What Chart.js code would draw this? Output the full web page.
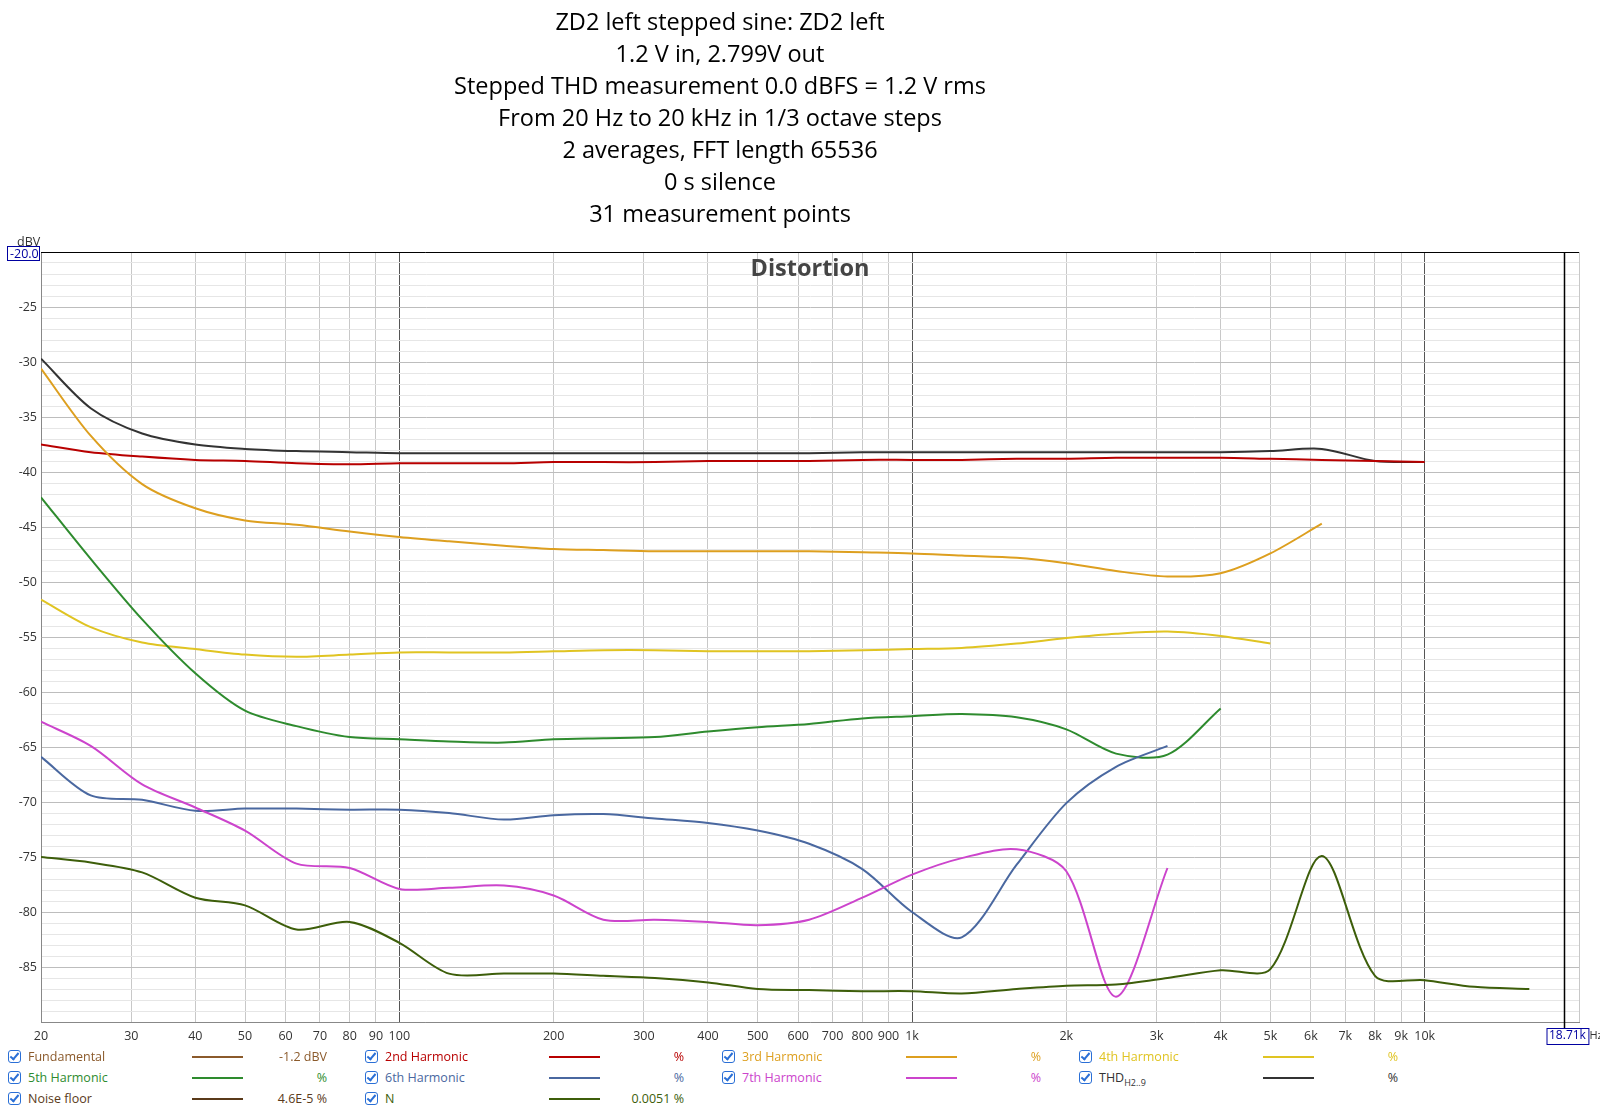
<!DOCTYPE html>
<html>
<head>
<meta charset="utf-8">
<script src="https://cdn.jsdelivr.net/npm/chart.js@4"></script>
<style>
  html, body { margin: 0; padding: 0; background: #fff; overflow: hidden; font-family: "Open Sans", "Noto Sans", sans-serif; }
  #wrap { position: relative; width: 1600px; height: 1111px; overflow: hidden; }
  canvas { position: absolute; left: 0; top: 0; }
  .lg { position: absolute; font-size: 12.5px; height: 18px; line-height: 18px; white-space: nowrap; }
  .cb { position: absolute; width: 11px; height: 11px; border: 1.5px solid #2a6fd6; border-radius: 3px; }
  .cb:after { content: ""; position: absolute; left: 3px; top: 0px; width: 3px; height: 7px; border: solid #2a6fd6; border-width: 0 2px 2px 0; transform: rotate(40deg); }
  .sw { position: absolute; width: 51px; height: 2px; }
</style>
</head>
<body>
<div id="wrap">
  <canvas id="c" width="1600" height="1052"></canvas>
  <div id="legend"></div>
</div>
<script>
const freqs = [20, 25, 31.5, 40, 50, 63, 80, 100, 125, 160, 200, 250, 315, 400, 500, 630, 800,
  1000, 1250, 1600, 2000, 2500, 3150, 4000, 5000, 6300, 8000, 10000, 12500, 16000];

const thd = [-29.7, -34.2, -36.5, -37.5, -37.9, -38.1, -38.2, -38.3, -38.3, -38.3, -38.3, -38.3, -38.3, -38.3, -38.3, -38.3, -38.2,
  -38.2, -38.2, -38.2, -38.2, -38.2, -38.2, -38.2, -38.1, -37.9, -39.0, -39.1];
const h2 = [-37.5, -38.2, -38.6, -38.9, -39.0, -39.2, -39.3, -39.2, -39.2, -39.2, -39.1, -39.1, -39.1, -39.0, -39.0, -39.0, -38.9,
  -38.9, -38.9, -38.8, -38.8, -38.7, -38.7, -38.7, -38.8, -38.9, -39.0, -39.1];
const h3 = [-30.6, -36.7, -41.1, -43.3, -44.4, -44.8, -45.4, -45.9, -46.3, -46.7, -47.0, -47.1, -47.2, -47.2, -47.2, -47.2, -47.3,
  -47.4, -47.6, -47.8, -48.3, -49.0, -49.5, -49.2, -47.4, -44.7];
const h4 = [-51.6, -54.1, -55.5, -56.1, -56.6, -56.8, -56.6, -56.4, -56.4, -56.4, -56.3, -56.2, -56.2, -56.3, -56.3, -56.3, -56.2,
  -56.1, -56.0, -55.6, -55.1, -54.7, -54.5, -54.9, -55.6];
const h5 = [-42.3, -47.9, -53.4, -58.3, -61.7, -63.1, -64.1, -64.3, -64.5, -64.6, -64.3, -64.2, -64.1, -63.6, -63.2, -62.9, -62.4,
  -62.2, -62.0, -62.3, -63.4, -65.6, -65.7, -61.5];
const h6 = [-65.9, -69.4, -69.8, -70.8, -70.6, -70.6, -70.7, -70.7, -71.0, -71.6, -71.2, -71.1, -71.5, -71.9, -72.6, -73.8, -76.1,
  -80.0, -82.3, -75.7, -70.1, -66.8, -64.9];
const h7 = [-62.7, -64.9, -68.4, -70.5, -72.6, -75.6, -76.0, -77.9, -77.8, -77.6, -78.5, -80.7, -80.7, -80.9, -81.2, -80.7, -78.7,
  -76.6, -75.1, -74.3, -76.3, -87.7, -76.0];
const noiseN = [-75.0, -75.5, -76.4, -78.7, -79.4, -81.6, -80.9, -82.8, -85.6, -85.6, -85.6, -85.8, -86.0, -86.4, -87.0, -87.1, -87.2,
  -87.2, -87.4, -87.0, -86.7, -86.6, -86.0, -85.3, -85.2, -74.9, -85.8, -86.2, -86.8, -87.0];

const xTicks = [20, 30, 40, 50, 60, 70, 80, 90, 100, 200, 300, 400, 500, 600, 700, 800, 900,
  1000, 2000, 3000, 4000, 5000, 6000, 7000, 8000, 9000, 10000, 13000, 15000, 17000];
const titleLines = ['ZD2 left stepped sine: ZD2 left', '1.2 V in, 2.799V out',
  'Stepped THD measurement 0.0 dBFS = 1.2 V rms', 'From 20 Hz to 20 kHz in 1/3 octave steps',
  '2 averages, FFT length 65536', '0 s silence', '31 measurement points'];

const series = [
  { label: 'N', data: noiseN, color: '#3d5e0a' },
  { label: '7th Harmonic', data: h7, color: '#cc44cc' },
  { label: '6th Harmonic', data: h6, color: '#4a68a0' },
  { label: '5th Harmonic', data: h5, color: '#2e8b2e' },
  { label: '4th Harmonic', data: h4, color: '#e0c422' },
  { label: '3rd Harmonic', data: h3, color: '#dd9f1f' },
  { label: '2nd Harmonic', data: h2, color: '#b80000' },
  { label: 'THD', data: thd, color: '#333333' }
];

const datasets = series.map(s => ({
  label: s.label,
  data: s.data.map((v, i) => ({ x: freqs[i], y: v })),
  borderColor: s.color,
  borderWidth: 2,
  pointRadius: 0,
  fill: false,
  tension: 0.3
}));

function fmtHz(v) {
  if (v >= 1000) return (v / 1000) + 'k';
  return String(v);
}

const overlay = {
  id: 'overlay',
  afterDraw(chart) {
    const ctx = chart.ctx, a = chart.chartArea, xs = chart.scales.x;
    ctx.save();
    ctx.fillStyle = '#000';
    ctx.font = '23.5px "Open Sans", sans-serif';
    ctx.textAlign = 'center';
    ctx.textBaseline = 'middle';
    titleLines.forEach((t, i) => ctx.fillText(t, 720, 23 + i * 32));
    ctx.fillStyle = '#444';
    ctx.font = 'bold 23.5px "Open Sans", sans-serif';
    ctx.fillText('Distortion', 810, 269);
    ctx.strokeStyle = '#000';
    ctx.lineWidth = 1;
    ctx.beginPath(); ctx.moveTo(a.left, a.top + 0.5); ctx.lineTo(a.right, a.top + 0.5); ctx.stroke();
    // cursor line
    const cx = Math.round(xs.getPixelForValue(18710)) + 0.5;
    ctx.lineWidth = 1.5;
    ctx.beginPath(); ctx.moveTo(cx, a.top); ctx.lineTo(cx, a.bottom + 10); ctx.stroke();
    // boxed labels
    ctx.lineWidth = 1;
    ctx.font = '12.5px "Open Sans", sans-serif';
    ctx.fillStyle = '#333';
    ctx.textAlign = 'left';
    ctx.fillText('dBV', 17, 242);
    ctx.fillStyle = '#fff';
    ctx.fillRect(7, 246, 32, 14);
    ctx.strokeStyle = '#0000a0';
    ctx.strokeRect(7.5, 246.5, 32, 14);
    ctx.fillStyle = '#0000a0';
    ctx.fillText('-20.0', 10, 254);
    ctx.font = '12px "Open Sans", sans-serif';
    const tw = ctx.measureText('18.71k').width;
    ctx.fillStyle = '#fff';
    ctx.fillRect(cx - 18, 1028, tw + 5, 16);
    ctx.strokeRect(cx - 18 + 0.5, 1028.5, tw + 5, 16);
    ctx.fillStyle = '#0000a0';
    ctx.fillText('18.71k', cx - 15.5, 1036);
    ctx.fillStyle = '#333';
    ctx.font = '11px "Open Sans", sans-serif';
    ctx.fillText('Hz', cx - 12 + tw, 1036);
    ctx.restore();
  }
};

new Chart(document.getElementById('c').getContext('2d'), {
  type: 'line',
  data: { datasets },
  plugins: [overlay],
  options: {
    responsive: false,
    animation: false,
    devicePixelRatio: 1,
    layout: { padding: { top: 252, right: 21, left: 0, bottom: 0 } },
    plugins: { legend: { display: false }, tooltip: { enabled: false } },
    scales: {
      x: {
        type: 'logarithmic', min: 20, max: 20000,
        afterFit: s => { s.height = 30; },
        afterBuildTicks: s => {
          const t = [];
          for (let d = 10; d <= 10000; d *= 10)
            for (let m = 1; m < 10; m++) { const v = d * m; if (v >= 20 && v <= 20000) t.push({ value: v }); }
          s.ticks = t;
        },
        border: { display: true, color: '#888' },
        grid: {
          color: c => [100, 1000, 10000].includes(c.tick.value) ? '#555' : '#c8c8c8',
          drawTicks: false
        },
        ticks: {
          autoSkip: false, maxRotation: 0, padding: 7,
          font: { size: 12.5, family: '"Open Sans", sans-serif' },
          color: c => c.tick.value > 10000 ? '#999' : '#333',
          callback: v => xTicks.includes(v) ? fmtHz(v) : ''
        }
      },
      y: {
        min: -90, max: -20,
        afterFit: s => { s.width = 41; },
        border: { display: true, color: '#888' },
        grid: {
          color: c => c.tick.value % 5 === 0 ? '#bdbdbd' : '#e6e6e6',
          drawTicks: false
        },
        ticks: {
          stepSize: 1, autoSkip: false, padding: 4,
          font: { size: 12.5, family: '"Open Sans", sans-serif' }, color: '#333',
          callback: v => (v % 5 === 0 && v !== -20 && v !== -90) ? String(v) : ''
        }
      }
    }
  }
});

// legend below the chart
const legendRows = [
  [['Fundamental', '#8b5a2b', '#8b5a2b', '-1.2 dBV'], ['2nd Harmonic', '#b80000', '#b80000', '%'], ['3rd Harmonic', '#dd9f1f', '#dd9f1f', '%'], ['4th Harmonic', '#e0c422', '#e0c422', '%']],
  [['5th Harmonic', '#2e8b2e', '#2e8b2e', '%'], ['6th Harmonic', '#4a68a0', '#4a68a0', '%'], ['7th Harmonic', '#cc44cc', '#cc44cc', '%'], ['THD<sub style="font-size:9px">H2..9</sub>', '#333', '#333', '%']],
  [['Noise floor', '#5a3a1a', '#5a3a1a', '4.6E-5 %'], ['N', '#3d5e0a', '#3d5e0a', '0.0051 %']]
];
const lg = document.getElementById('legend');
legendRows.forEach((row, r) => {
  row.forEach((it, c) => {
    const x0 = 8 + c * 357, y0 = 1048 + r * 21;
    lg.insertAdjacentHTML('beforeend',
      `<div class="cb" style="left:${x0}px;top:${y0 + 2}px"></div>` +
      `<div class="lg" style="left:${x0 + 20}px;top:${y0}px;color:${it[1]}">${it[0]}</div>` +
      `<div class="sw" style="left:${x0 + 184}px;top:${y0 + 8}px;background:${it[2]}"></div>` +
      `<div class="lg" style="left:${x0 + 219}px;width:100px;text-align:right;top:${y0}px;color:${it[1]}">${it[3]}</div>`);
  });
});
</script>
</body>
</html>
